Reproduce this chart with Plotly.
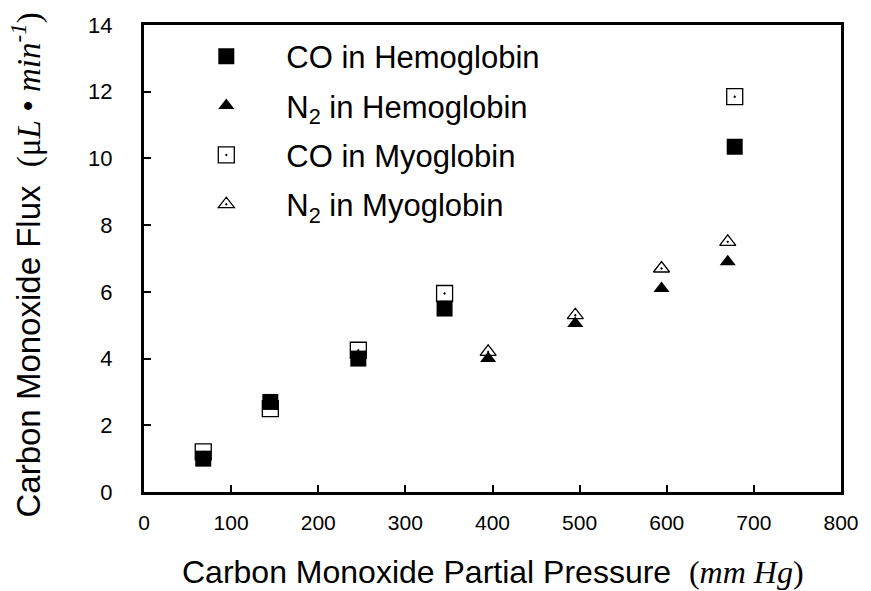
import plotly.graph_objects as go

# Partial pressure of CO (mm Hg) for each run series
x_co = [68, 145, 246, 345, 678]
x_n2 = [395, 495, 594, 670]

# Measured CO flux (uL/min)
co_hemoglobin = [1.0, 2.7, 4.0, 5.5, 10.35]
co_myoglobin = [1.2, 2.5, 4.25, 5.95, 11.85]
n2_hemoglobin = [4.0, 5.05, 6.1, 6.9]
n2_myoglobin = [4.2, 5.3, 6.7, 7.5]

x_ticks = [0, 100, 200, 300, 400, 500, 600, 700, 800]
y_ticks = [0, 2, 4, 6, 8, 10, 12, 14]

SANS = "Liberation Sans, Arial, sans-serif"
SERIF = "Liberation Serif, Times New Roman, serif"

fig = go.Figure()

# open markers first so the filled ones sit on top where they overlap
fig.add_trace(go.Scatter(
    x=x_co, y=co_myoglobin, mode="markers", name="CO in Myoglobin",
    legendrank=3, legendgroup="c",
    marker=dict(symbol="square-open-dot", size=16, color="black",
                line=dict(width=1.3, color="black")),
))
fig.add_trace(go.Scatter(
    x=x_n2, y=n2_myoglobin, mode="markers", name="N<sub>2</sub> in Myoglobin",
    legendrank=4, legendgroup="d",
    marker=dict(symbol="triangle-up-open-dot", size=14, color="black",
                line=dict(width=1.3, color="black")),
))
fig.add_trace(go.Scatter(
    x=x_co, y=co_hemoglobin, mode="markers", name="CO in Hemoglobin",
    legendrank=1, legendgroup="a",
    marker=dict(symbol="square", size=16, color="black", line=dict(width=0)),
))
fig.add_trace(go.Scatter(
    x=x_n2, y=n2_hemoglobin, mode="markers", name="N<sub>2</sub> in Hemoglobin",
    legendrank=2, legendgroup="b",
    marker=dict(symbol="triangle-up", size=14, color="black", line=dict(width=0)),
))

axis_common = dict(
    showgrid=False, zeroline=False, showline=True, linecolor="black",
    linewidth=3, mirror=True, ticks="inside", ticklen=7, tickwidth=2,
    tickcolor="black",
)

fig.update_xaxes(range=[0, 800], tickvals=x_ticks, ticklabelstandoff=10,
                 tickfont=dict(family=SANS, size=21, color="black"), **axis_common)
fig.update_yaxes(range=[0, 14], tickvals=y_ticks, ticklabelstandoff=24,
                 tickfont=dict(family=SANS, size=22, color="black"), **axis_common)

fig.update_layout(
    width=871, height=591,
    margin=dict(l=144, r=25, t=25, b=99),
    paper_bgcolor="white", plot_bgcolor="white",
    font=dict(family=SANS, color="black"),
    legend=dict(
        x=0.032, y=0.99, xanchor="left", yanchor="top",
        bgcolor="rgba(0,0,0,0)", borderwidth=0,
        font=dict(family=SANS, size=31, color="black"),
        itemwidth=110, traceorder="grouped", tracegroupgap=6,
    ),
    annotations=[
        dict(
            text=("Carbon Monoxide Partial Pressure  "
                  f"<span style='font-family:{SERIF}'>(<i>mm Hg</i>)</span>"),
            xref="paper", yref="paper", x=0.5, y=0, yshift=-80,
            xanchor="center", yanchor="middle", showarrow=False,
            font=dict(family=SANS, size=32, color="black"),
        ),
        dict(
            text=("Carbon Monoxide Flux  "
                  f"<span style='font-family:{SERIF}'>(μ<i>L</i> • <i>min</i>"
                  "<sup><i>-1</i></sup>)</span>"),
            xref="paper", yref="paper", x=0, y=0.485, xshift=-117, yshift=0,
            xanchor="center", yanchor="middle", textangle=-90, showarrow=False,
            font=dict(family=SANS, size=33, color="black"),
        ),
    ],
)

fig.write_html("out.html")
